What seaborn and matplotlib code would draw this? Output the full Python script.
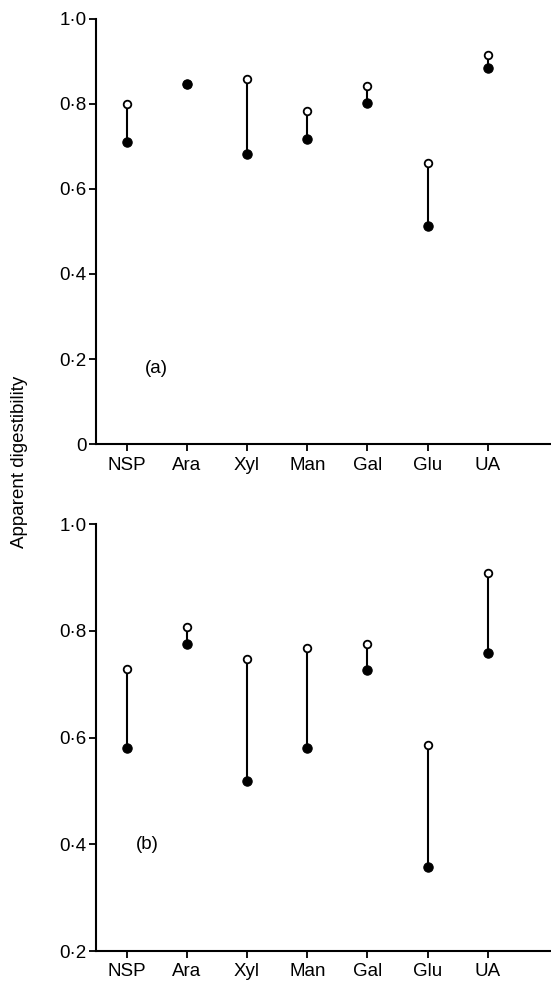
import numpy as np
import pandas as pd
import matplotlib
matplotlib.use("Agg")
import matplotlib.pyplot as plt
import seaborn as sns

sns.set_style("ticks")
plt.rcParams['font.family'] = ['Liberation Sans', 'DejaVu Sans']
plt.rcParams['text.color'] = 'black'
plt.rcParams['xtick.color'] = 'black'
plt.rcParams['ytick.color'] = 'black'

sugars = ["NSP", "Ara", "Xyl", "Man", "Gal", "Glu", "UA"]

# panel (a)
open_a = [0.800, 0.846, 0.859, 0.782, 0.841, 0.661, 0.914]
filled_a = [0.710, 0.846, 0.681, 0.718, 0.802, 0.513, 0.883]
# panel (b)
open_b = [0.729, 0.808, 0.747, 0.768, 0.776, 0.586, 0.909]
filled_b = [0.580, 0.775, 0.518, 0.580, 0.726, 0.358, 0.758]

yticks_a = [0, 0.2, 0.4, 0.6, 0.8, 1.0]
ytick_labels_a = ["0", "0·2", "0·4", "0·6", "0·8", "1·0"]
yticks_b = [0.2, 0.4, 0.6, 0.8, 1.0]
ytick_labels_b = ["0·2", "0·4", "0·6", "0·8", "1·0"]

fig = plt.figure(figsize=(5.51, 9.86), dpi=100)
W, H = 551, 986
ax_a = fig.add_axes([96 / W, 1 - 444.3 / H, (551 - 96) / W, (444.3 - 18.5) / H])
ax_b = fig.add_axes([96 / W, 1 - 951 / H, (551 - 96) / W, (951 - 524.3) / H])

FS = 13.5


def panel(ax, op, fi, ylim, yt, ytl, tag, tag_x, tag_y):
    df = pd.DataFrame({"sugar": sugars, "open": op, "filled": fi})
    pos = np.arange(len(sugars))
    ax.vlines(pos, df["filled"], df["open"], color="black", lw=1.5, zorder=1)
    sns.scatterplot(x=pos, y=df["open"], ax=ax, marker="o", s=30,
                    facecolor="white", edgecolor="black", linewidth=1.3, zorder=2)
    sns.scatterplot(x=pos, y=df["filled"], ax=ax, marker="o", s=45,
                    color="black", edgecolor="black", linewidth=0.8, zorder=3)
    ax.set_xlim(-0.51, 7.05)
    ax.set_ylim(*ylim)
    ax.set_xticks(pos)
    ax.set_xticklabels(sugars, fontsize=FS)
    ax.set_yticks(yt)
    ax.set_yticklabels(ytl, fontsize=FS)
    ax.tick_params(axis="both", direction="out", length=5, width=1.3,
                   color="black", labelcolor="black")
    ax.tick_params(axis="x", pad=4)
    ax.tick_params(axis="y", pad=2)
    ax.set_xlabel("")
    ax.set_ylabel("")
    for s in ["left", "bottom"]:
        ax.spines[s].set_linewidth(1.5)
        ax.spines[s].set_color("black")
    sns.despine(ax=ax)
    ax.text(tag_x, tag_y, tag, fontsize=FS, ha="center", va="center")


panel(ax_a, open_a, filled_a, (0, 1.0), yticks_a, ytick_labels_a, "(a)", 0.5, 0.177)
panel(ax_b, open_b, filled_b, (0.2, 1.0), yticks_b, ytick_labels_b, "(b)", 0.34, 0.4)

fig.text(20 / W, 1 - 462 / H, "Apparent digestibility", rotation=90,
         ha="center", va="center", fontsize=FS)

fig.savefig("out.png", dpi=100)
